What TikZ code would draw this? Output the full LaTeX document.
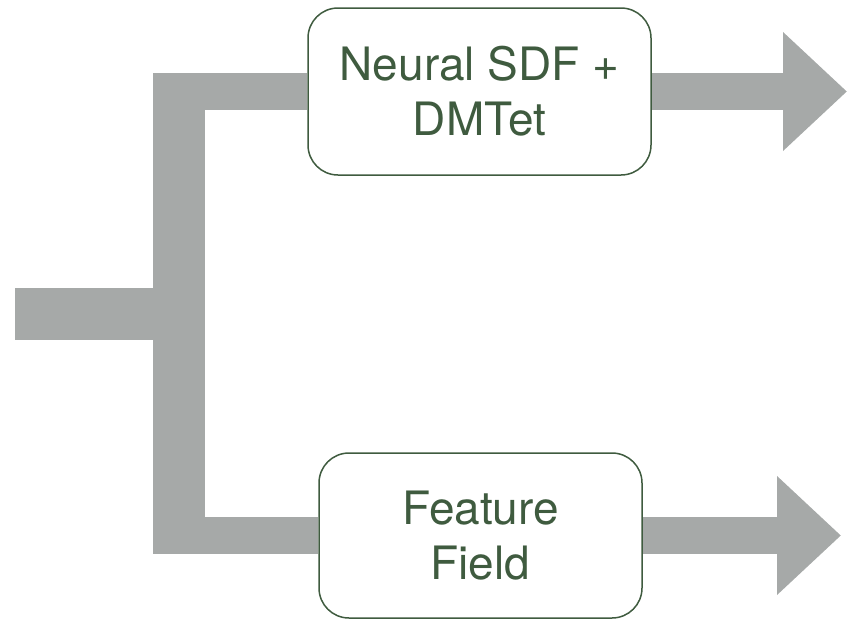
\documentclass[tikz,border=0pt]{standalone}
\usepackage{fontspec}
\setmainfont{TeX Gyre Heros}
\usetikzlibrary{arrows.meta, positioning}
\definecolor{PipeGray}{HTML}{A6A9A8}
\definecolor{BoxGreen}{HTML}{3F5B3F}

\begin{document}
\begin{tikzpicture}[x=1pt, y=-1pt,
    stagebox/.style={draw=BoxGreen, line width=1.5pt, rounded corners=30pt, fill=white,
      text=BoxGreen, align=center, inner sep=0pt,
      font=\fontsize{46}{55}\selectfont},
    pipe/.style={draw=PipeGray, line width=37pt},
    flow/.style={pipe, -{Triangle[length=64pt, width=115pt]}}]
    \useasboundingbox (0,0) rectangle (847,619);

    \node[stagebox, minimum width=343pt, minimum height=167pt] (sdf) at (479.5,91.5) {Neural SDF +\\DMTet};
    \node[stagebox, minimum width=323pt, minimum height=165pt] (feat) at (480.5,535.5) {Feature\\Field};

    \coordinate (in) at (15,314);
    \coordinate (fork) at (179,314);
    \coordinate (forktop) at (179,73);
    \coordinate (forkbot) at (179,554);
    \coordinate (branchA) at (153,91.5);
    \coordinate (branchB) at (153,535.5);
    \coordinate (outA) at (847,91.5);
    \coordinate (outB) at (841,535.5);

    % trunk and branches
    \draw[pipe, line width=52pt] (in) -- (fork);
    \draw[pipe, line width=52pt] (forktop) -- (forkbot);
    \draw[pipe] (branchA) -- (sdf.west);
    \draw[pipe] (branchB) -- (feat.west);

    % outputs
    \draw[flow] (sdf.east) -- (outA);
    \draw[flow] (feat.east) -- (outB);
\end{tikzpicture}
\end{document}
